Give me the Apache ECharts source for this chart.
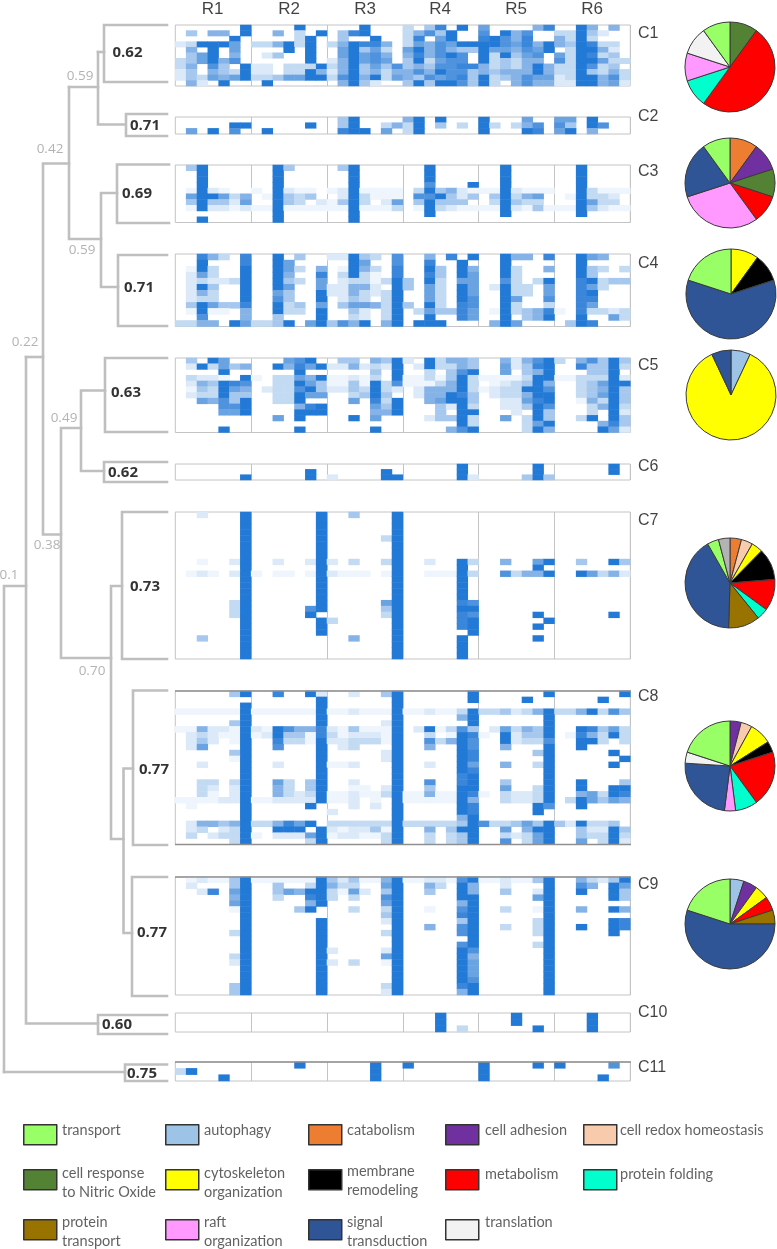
<!DOCTYPE html>
<html><head><meta charset="utf-8">
<style>html,body{margin:0;padding:0;background:#fff}#c{width:777px;height:1249px}</style>
<script src="https://cdn.jsdelivr.net/npm/echarts@6/dist/echarts.min.js"></script>
</head><body><div id="c"></div>
<script>
const replicates = ['R1','R2','R3','R4','R5','R6'];
const clusters = ['C1','C2','C3','C4','C5','C6','C7','C8','C9','C10','C11'];
// Heat values, one digit (0-9) per cell, 7 cells per replicate
const C1 = [
"0000009 0000900 0009000 3048090 6000058 0095050",
"0405509 0050309 0489000 3574900 7095700 3394200",
"0000090 0000390 0400900 3806900 8975800 5393000",
"2399960 3359390 3598850 3657699 9976859 5498330",
"0509060 0009090 0694630 6957544 9665769 0399520",
"0469050 0240090 0696750 5857970 9394670 6398340",
"3469570 0000090 2596760 4936770 9343550 7399633",
"3507409 2203339 3594647 4547788 5343595 3397340",
"2405439 2203395 2594535 5759774 5455595 3394353",
"2436569 3346699 3795936 5476784 9345766 2399573",
"0520900 0900000 0594200 4949974 9305755 2299562"];
const C2 = [
"0000000 0000000 0490000 5909000 9000600 6609000",
"0000099 0000090 0490035 3904030 9303570 7409700",
"0609070 0900000 0899060 3900000 9000980 6905000"];
const C3 = [
"0490000 0094000 0490000 0090000 0090000 0090000",
"0090000 0090000 0090000 0090000 0090000 0090000",
"0090000 0090000 0090000 0090000 0090000 0090000",
"0090000 0090000 0090000 0070009 0090000 0090000",
"0192100 1092110 1291111 0394521 1192111 0093111",
"0699635 0194340 0293111 0779424 0493560 0193320",
"0494426 0094302 1493026 0494440 0394330 0096330",
"0192212 1191111 1191113 0193211 1192141 1194211",
"0000000 0090000 0090000 0090000 0090000 0090000",
"0090000 0090000 0090000 0000000 0000000 0000000"];
const C4 = [
"0085308 0090400 2294307 0050809 0095508 0096500",
"0090008 0096000 0096007 0080090 0090000 0090000",
"0193009 0096305 0195308 0094095 0093005 0094303",
"0263009 0095008 0393108 0084096 0093000 0094000",
"0232239 0094306 0233139 4093066 0073039 0089344",
"0294009 0096006 2255209 4063096 0293306 0086300",
"0253009 0064009 2253239 0063096 0093306 0089000",
"0233009 0074009 0243039 0063097 0096007 0088000",
"0496448 0093406 0466539 4093087 0093003 0086000",
"0191105 0093309 0042039 0364486 0193458 1083323",
"0070005 0040009 0032039 0090086 0090459 0090063",
"3355096 3349069 4759059 0999000 0596000 0498000"];
const C5 = [
"0409600 0006790 0440549 2093554 0052579 3057494",
"0293645 0095869 2252329 0293354 0062489 0084493",
"0000900 0000900 0000409 0030479 0060459 0004490",
"0322109 1033659 1121309 1131493 1111399 1133392",
"0254987 0033964 1141937 1113593 0123495 0034699",
"0143965 0233794 2243932 0255593 1233997 0034594",
"0233944 0033966 0034940 0255984 0233599 0034694",
"0065749 0033900 0060839 0056994 0022689 0015394",
"0000779 0000589 0000649 0004293 0022497 0003593",
"0000669 0000999 0000559 0004099 0002094 0003092",
"0000000 0060900 0090600 0024493 0060394 0039094",
"0000000 0000000 0000000 0000093 0000369 0000584",
"0000900 0000900 0000900 0000579 0000395 0000962"];
const C6 = [
"0000000 0000000 0000000 0000090 0000090 0000090",
"0000000 0000090 0000090 0000090 0000090 0000090",
"0000009 0000090 2000099 0000092 0000494 0000000"];
const C7 = [
"0020009 0000009 0040009 0000000 0000000 0000000",
"0000009 0000009 0000009 0000000 0000000 0000000",
"0000009 0000009 0000009 0000000 0000000 0000000",
"0000009 0000009 0000009 0000000 0000000 0000000",
"0000009 0000009 0000039 0000000 0000000 0000000",
"0000009 0000009 0000009 0000000 0000000 0000000",
"0000009 0000009 0000009 0000000 0000000 0000000",
"0000009 0000009 0000009 0000000 0000000 0000000",
"0010029 0020029 2030039 0020093 0050069 0040094",
"0000009 0000009 0000009 0000090 0000090 0000000",
"0121029 1011019 2111019 0011193 0073559 0096352",
"0000009 0000009 0000009 0000090 0000000 0000000",
"0000009 0000009 0000009 0000090 0000000 0000000",
"0000009 0000009 0000009 0000090 0000000 0000000",
"0000009 0000009 0000009 0000090 0000000 0000000",
"0000039 0000009 0000069 0000087 0000000 0000000",
"0000039 0000079 0000049 0000099 0000000 0000000",
"0000039 0000090 0000039 0000087 0000090 0000090",
"0000009 0000009 3000009 0000089 0000009 0000000",
"0000009 0000009 0000009 0000089 0000090 0000000",
"0000009 0000009 0000009 0000009 0000000 0000000",
"0040009 0000000 0050009 0000090 0000090 0000000",
"0000009 0000000 0000009 0000090 0000000 0000000",
"0000009 0000000 0000009 0000090 0000000 0000000",
"0000009 0000000 0000009 0000090 0000000 0000000"];
const C8 = [
"0000049 0080092 0020049 0000009 0000009 0000009",
"0000000 0000009 0000009 0000009 0000900 0000900",
"0000009 0000009 0000009 0000000 0000000 0000000",
"1111119 1111119 1121119 1121139 3342359 3359374",
"0000009 0000009 0000009 0000059 0000009 0000000",
"0000049 0000009 0000029 0000009 0000009 0000000",
"1152219 2197558 2141119 0291374 0263549 0098463",
"0232119 1294418 3122219 0030198 1092449 0185393",
"0242019 0083319 2233319 0073597 0092337 0099303",
"0260009 0070009 0230009 0050097 0050009 0090000",
"0000049 0000009 0000029 0000098 0000049 0000090",
"0000019 0000009 0000029 0000098 0000009 0000009",
"0020009 0020009 1120009 0020096 0050039 0000090",
"0000009 0000009 0000009 0000098 0000009 0000000",
"0000009 0000009 0000009 0000089 0000009 0000000",
"0033039 0063049 0020009 0070089 0040009 0090004",
"0032029 0053049 0011029 0040099 0060039 0090099",
"0031029 0053239 1121139 1151198 1032239 0056398",
"1111229 1122229 1120109 1111195 0032239 0396465",
"0100009 0000090 0020209 0000098 0000097 0090000",
"0000009 0000000 2000009 0000098 0000090 0000000",
"0000009 0000000 0000009 0000059 0000000 0000000",
"0255459 3358690 3333339 3333349 7334649 4293340",
"0230239 0099909 2122419 0050499 0060599 0042294",
"0302339 1022269 1221139 0030349 0032369 0043393",
"0000039 0000039 0000039 0030349 0070369 0060392"];
const C9 = [
"0121149 1111119 4241159 1122179 1121149 0053249",
"0200049 0040039 5330069 0053095 0020009 0075096",
"0028069 0046599 3162049 0040095 0040029 0090094",
"0000059 0030089 3030079 0000099 0000069 0000094",
"0000069 0000059 0000069 0000059 0000009 0000000",
"0000019 0000490 0030039 0010079 0030019 0050095",
"0000009 0000000 0000049 0000089 0000009 0000000",
"0000009 0000009 0000029 0000049 0000039 0000098",
"0000009 0000009 0000009 0050079 0030039 0090098",
"0000039 0000009 0000039 0000079 0000039 0000090",
"0000009 0000009 0000009 0000009 0000009 0000000",
"0000009 0000009 0000009 0000079 0000039 0000000",
"0000009 0000009 2000029 0000097 0000009 0000000",
"0000039 0000009 0000069 0000095 0000009 0000000",
"0000029 0000009 2030019 0000096 0000009 0000000",
"0000009 0000009 0000009 0000096 0000009 0000000",
"0000009 0000009 0000009 0000096 0000009 0000000",
"0000009 0000009 0000009 0000097 0000009 0000000",
"0000049 0000009 0000039 0000089 0000009 0000000",
"0000049 0000009 0000029 0000059 0000009 0000000"];
const C10 = [
"0000000 0000000 0000000 0009000 0009000 0009000",
"0000000 0000000 0000000 0009000 0009000 0009000",
"0000000 0000000 0000000 0009030 0000090 0009000"];
const C11 = [
"0000000 0000900 0000900 9000000 9000090 9000070",
"3900000 0000000 0000900 0000000 9000000 0000000",
"0000900 0000000 0000900 0000000 9000000 0000900"];
const heatRows = [C1,C2,C3,C4,C5,C6,C7,C8,C9,C10,C11];

// Functional categories and their shares per cluster
const categoryNames = ['transport','autophagy','catabolism','cell adhesion','cell redox homeostasis',
  'cell response to Nitric Oxide','cytoskeleton organization','membrane remodeling','metabolism','protein folding',
  'protein transport','raft organization','signal transduction','translation'];
const categoryLabels = ['transport','autophagy','catabolism','cell adhesion','cell redox homeostasis',
  'cell response\nto Nitric Oxide','cytoskeleton\norganization','membrane\nremodeling','metabolism','protein folding',
  'protein\ntransport','raft\norganization','signal\ntransduction','translation'];
const categoryColors = ['#99ff66','#9dc3e6','#ed7d31','#7030a0','#f8cbad','#548235','#ffff00','#000000','#ff0000','#00ffcc','#997300','#ff99ff','#2f5597','#f2f2f2'];
const pieC1 = [['cell response to Nitric Oxide',10],['metabolism',50],['protein folding',10],['raft organization',10],['translation',10],['transport',10]];
const pieC3 = [['catabolism',10],['cell adhesion',10],['cell response to Nitric Oxide',10],['metabolism',10],['raft organization',30],['signal transduction',20],['transport',10]];
const pieC4 = [['cytoskeleton organization',10],['membrane remodeling',10],['signal transduction',60],['transport',20]];
const pieC5 = [['autophagy',7],['cytoskeleton organization',86],['signal transduction',7]];
const pieC7 = [['catabolism',4],['cell redox homeostasis',4],['cytoskeleton organization',4],['membrane remodeling',11],['metabolism',11],['protein folding',4],['protein transport',11],['signal transduction',40],['transport',4],['other',4]];
const pieC8 = [['cell adhesion',4],['cell redox homeostasis',4],['cytoskeleton organization',8],['membrane remodeling',4],['metabolism',20],['protein folding',8],['raft organization',4],['signal transduction',24],['translation',4],['transport',20]];
const pieC9 = [['autophagy',5],['cell adhesion',5],['cytoskeleton organization',5],['metabolism',5],['protein transport',5],['signal transduction',55],['transport',20]];

// Dendrogram branches (page units)
const treeBranches = [
 [[167,25],[104,25],[104,82],[167,82]], [[98,52],[104,52]],
 [[125,124.5],[98,124.5],[98,52]], [[167,114],[126,114],[126,136],[167,136]],
 [[69,87],[98,87]], [[101,239],[69,239],[69,87]],
 [[117,193],[101,193],[101,287],[118,287]],
 [[169,164.5],[117,164.5],[117,223],[169,223]],
 [[167,255],[118,255],[118,326],[167,326]],
 [[69,163.5],[43,163.5],[43,534.5],[61,534.5]],
 [[26,357],[43,357]],
 [[81,428],[61,428],[61,658],[111,658]],
 [[105,390.5],[81,390.5],[81,471],[104,471]],
 [[167,358],[105,358],[105,432],[167,432]],
 [[167,462],[104,462],[104,482],[167,482]],
 [[122,586],[111,586],[111,839],[123.5,839]],
 [[167,512],[122,512],[122,659],[167,659]],
 [[133,768.5],[123.5,768.5],[123.5,933],[132,933]],
 [[167,690.5],[133,690.5],[133,845],[167,845]],
 [[167,877],[132,877],[132,996],[167,996]],
 [[4,1072],[4,586],[26,586]], [[26,357],[26,1023.5],[98,1023.5]],
 [[167,1015],[98,1015],[98,1034],[167,1034]],
 [[4,1072],[125,1072]], [[167,1064.5],[125,1064.5],[125,1081],[167,1081]]
];
const panelRules = [[[175,691],[631,691]],[[175,844.5],[631,844.5]],[[175,877],[631,877]],[[175,1062],[631,1062]]];
const nodeScores = [['0.62',127.5,53],['0.71',145,126],['0.69',137,194],['0.71',139,288],['0.63',126,393],['0.62',123,473],['0.73',145,586.5],['0.77',154,769.5],['0.77',152,932.5],['0.60',117,1024.5],['0.75',142,1073.5]];
const branchScores = [['0.59',80,76],['0.42',50,149],['0.59',82,250],['0.22',25,342],['0.49',64,418],['0.38',47,545],['0.70',92,671],['0.1',9,575]];

// Layout
const panels = [[25,61],[117,17],[165,57.5],[254,72.5],[358,74.5],[464,16],[512,147],[691,153.5],[877,118],[1013,19],[1062,19]];
const panelLeft = 175.3, panelWidth = 455;
const clusterLabelY = [34,117,172,264,366,467,521,697,885,1013,1068];
const replicateLabelX = [212.5,289,365,440,516,592];
const pieCenters = [[730,67,pieC1],[730,183,pieC3],[731,294,pieC4],[731,395,pieC5],[730,583,pieC7],[730,766,pieC8],[730,924,pieC9]];
const legendX = [23,165,308,445,583];
const legendY = [1124,1169,1219];
const legendTextX = [62,204,347,485,620];
const legendTextY = [1130,1130,1130,1130,1130,1182.5,1182.5,1181,1174,1174,1231.5,1231.5,1231.5,1222];

const colorOf = n => { const i = categoryNames.indexOf(n); return i < 0 ? '#b3b3b3' : categoryColors[i]; };
const cols = Array.from({length:42},(_, i)=>i);
const grid=[], xAxis=[], yAxis=[], series=[];
heatRows.forEach((rows,k)=>{
  const [top,h]=panels[k];
  grid.push({left:panelLeft,top,width:panelWidth,height:h,show:true,borderColor:'#c4c4c4',borderWidth:1,backgroundColor:'#fff'});
  xAxis.push({type:'category',gridIndex:k,data:cols,axisLine:{show:false},axisTick:{show:false},axisLabel:{show:false},
    splitLine:{show:true,interval:(i)=>i%7===0&&i>0,lineStyle:{color:'#c4c4c4',width:1}}});
  yAxis.push({type:'category',gridIndex:k,inverse:true,data:rows.map((_, i)=>i),axisLine:{show:false},axisTick:{show:false},axisLabel:{show:false},splitLine:{show:false}});
  const data=[];
  rows.forEach((s,r)=>{ s.replace(/ /g,'').split('').forEach((d,c)=>{ if(+d>0) data.push([c,r,+d]); }); });
  series.push({type:'heatmap',name:clusters[k],xAxisIndex:k,yAxisIndex:k,data,silent:true,animation:false,progressive:0});
});
// overlay
const ov=heatRows.length;
grid.push({left:0,top:0,width:777,height:1249,show:false});
xAxis.push({type:'value',gridIndex:ov,min:0,max:777,show:false});
yAxis.push({type:'value',gridIndex:ov,min:0,max:1249,inverse:true,show:false});
series.push({type:'lines',coordinateSystem:'cartesian2d',xAxisIndex:ov,yAxisIndex:ov,polyline:true,silent:true,animation:false,
  lineStyle:{color:'#bfbfbf',width:2.6,opacity:1,cap:'square'},data:treeBranches.map(coords=>({coords}))});
series.push({type:'lines',coordinateSystem:'cartesian2d',xAxisIndex:ov,yAxisIndex:ov,polyline:true,silent:true,animation:false,
  lineStyle:{color:'#8f8f8f',width:1.5,opacity:1},data:panelRules.map(coords=>({coords}))});
const textSeries=(data,label)=>({type:'scatter',xAxisIndex:ov,yAxisIndex:ov,symbolSize:0,silent:true,animation:false,clip:false,data,
  label:Object.assign({show:true,position:'inside',formatter:p=>p.data[2]},label)});
series.push(textSeries(nodeScores.map(a=>[a[1],a[2],a[0]]),{fontFamily:'"Open Sans"',fontWeight:'bold',fontSize:15,color:'#000'}));
series.push(textSeries(branchScores.map(a=>[a[1],a[2],a[0]]),{fontFamily:'"Open Sans"',fontSize:13.5,color:'#a0a0a0'}));
series.push(textSeries(replicates.map((r,i)=>[replicateLabelX[i],9,r]),{fontFamily:'"Liberation Sans"',fontSize:17,color:'#111'}));
series.push(textSeries(clusters.map((c,i)=>[638,clusterLabelY[i],c]),{fontFamily:'"Liberation Sans"',fontSize:16,color:'#111',align:'left'}));
// pies
pieCenters.forEach(([x,y,items])=>{
  series.push({type:'pie',center:[x,y],radius:[0,45],startAngle:90,clockwise:true,silent:true,animation:false,
    label:{show:false},labelLine:{show:false},
    itemStyle:{borderColor:'#3a3a3a',borderWidth:1},
    data:items.map(([name,value])=>({name,value,itemStyle:{color:colorOf(name)}}))});
});
// legend swatches and their texts
const colOf = i => i<5?i:(i<10?i-5:i-10);
const rowOf = i => i<5?0:(i<10?1:2);
const legend=categoryNames.map((name,i)=>({show:true,data:[{name}],left:legendX[colOf(i)],top:legendY[rowOf(i)],padding:0,selectedMode:false,
    itemWidth:33,itemHeight:20,itemGap:0,icon:'rect',
    itemStyle:{color:categoryColors[i],borderColor:'#333',borderWidth:1.5},
    formatter:()=>'',textStyle:{fontSize:1}}));
series.push(textSeries(categoryLabels.map((t,i)=>[legendTextX[colOf(i)],legendTextY[i],t]),
  {fontFamily:'Lato',fontSize:14.5,lineHeight:19,color:'#3a3a3a',align:'left'}));
const chart=echarts.init(document.getElementById('c'),null,{renderer:'canvas'});
chart.setOption({animation:false,backgroundColor:'#fff',grid,xAxis,yAxis,legend,
  visualMap:{show:false,type:'continuous',min:0,max:9,dimension:2,seriesIndex:heatRows.map((_, i)=>i),
    inRange:{color:['#ffffff','#eef5fc','#dbe9f8','#c3daf3','#a6c8ee','#85b3e7','#6aa3e2','#4f93de','#3a86da','#227ad6']}},
  series});
</script></body></html>
